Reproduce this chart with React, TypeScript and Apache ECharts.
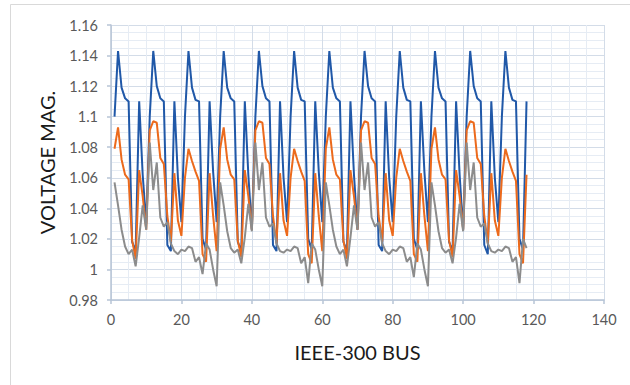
import React, { useEffect, useRef } from "react";
import * as echarts from "echarts";

const buses: number[] = Array.from({ length: 118 }, (_, i) => i + 1);

const xTicks = [0, 20, 40, 60, 80, 100, 120, 140];
const yTicks = [0.98, 1.0, 1.02, 1.04, 1.06, 1.08, 1.1, 1.12, 1.14, 1.16];

const blueSeries = [
  1.100, 1.143, 1.119, 1.112, 1.110, 1.018, 1.012, 1.110, 1.062, 1.030,
  1.100, 1.143, 1.120, 1.112, 1.110, 1.016, 1.012, 1.110, 1.060, 1.031,
  1.100, 1.143, 1.119, 1.111, 1.110, 1.020, 1.013, 1.110, 1.064, 1.031,
  1.100, 1.143, 1.119, 1.112, 1.110, 1.018, 1.012, 1.110, 1.062, 1.026,
  1.100, 1.143, 1.120, 1.112, 1.110, 1.016, 1.012, 1.110, 1.060, 1.031,
  1.100, 1.143, 1.119, 1.111, 1.110, 1.020, 1.013, 1.110, 1.064, 1.031,
  1.100, 1.143, 1.119, 1.112, 1.110, 1.018, 1.012, 1.110, 1.062, 1.026,
  1.100, 1.143, 1.120, 1.112, 1.110, 1.016, 1.012, 1.110, 1.060, 1.031,
  1.100, 1.143, 1.119, 1.111, 1.110, 1.020, 1.013, 1.110, 1.064, 1.031,
  1.100, 1.143, 1.119, 1.112, 1.110, 1.018, 1.012, 1.110, 1.062, 1.026,
  1.100, 1.143, 1.120, 1.112, 1.110, 1.016, 1.010, 1.110, 1.060, 1.031,
  1.100, 1.143, 1.119, 1.111, 1.110, 1.020, 1.013, 1.110,
];

const orangeSeries = [
  1.079, 1.093, 1.072, 1.062, 1.059, 1.019, 1.007, 1.065, 1.048, 1.026,
  1.091, 1.097, 1.096, 1.073, 1.069, 1.035, 1.018, 1.063, 1.032, 1.022,
  1.060, 1.079, 1.071, 1.064, 1.058, 1.010, 1.005, 1.063, 1.035, 1.012,
  1.079, 1.093, 1.072, 1.062, 1.059, 1.019, 1.008, 1.065, 1.048, 1.026,
  1.091, 1.097, 1.096, 1.073, 1.069, 1.035, 1.017, 1.063, 1.032, 1.022,
  1.060, 1.079, 1.071, 1.064, 1.058, 1.010, 1.004, 1.063, 1.035, 1.012,
  1.079, 1.093, 1.072, 1.062, 1.059, 1.019, 1.007, 1.065, 1.048, 1.026,
  1.091, 1.097, 1.096, 1.073, 1.069, 1.035, 1.018, 1.063, 1.032, 1.022,
  1.060, 1.079, 1.071, 1.064, 1.058, 1.010, 1.005, 1.063, 1.035, 1.012,
  1.079, 1.093, 1.072, 1.062, 1.059, 1.019, 1.008, 1.065, 1.048, 1.026,
  1.091, 1.097, 1.096, 1.073, 1.069, 1.035, 1.017, 1.063, 1.032, 1.022,
  1.060, 1.079, 1.071, 1.064, 1.058, 1.010, 1.004, 1.062,
];

const graySeries = [
  1.057, 1.042, 1.026, 1.015, 1.010, 1.013, 1.002, 1.021, 1.042, 1.026,
  1.083, 1.052, 1.070, 1.034, 1.028, 1.031, 1.017, 1.012, 1.010, 1.013,
  1.012, 1.015, 1.014, 1.005, 1.008, 0.997, 1.017, 1.013, 1.000, 0.989,
  1.057, 1.042, 1.025, 1.014, 1.011, 1.013, 1.004, 1.021, 1.043, 1.025,
  1.083, 1.052, 1.070, 1.034, 1.028, 1.030, 1.017, 1.012, 1.011, 1.013,
  1.012, 1.015, 1.014, 1.004, 1.008, 0.991, 1.017, 1.013, 1.000, 0.989,
  1.057, 1.042, 1.026, 1.015, 1.010, 1.013, 1.002, 1.021, 1.042, 1.026,
  1.083, 1.052, 1.070, 1.034, 1.028, 1.031, 1.017, 1.012, 1.010, 1.013,
  1.012, 1.015, 1.014, 1.005, 1.008, 0.995, 1.017, 1.013, 1.000, 0.989,
  1.057, 1.042, 1.025, 1.014, 1.011, 1.013, 1.004, 1.021, 1.043, 1.025,
  1.083, 1.052, 1.070, 1.034, 1.028, 1.030, 1.017, 1.012, 1.011, 1.013,
  1.012, 1.015, 1.014, 1.005, 1.008, 0.991, 1.020, 1.014,
];

const FONT = "Lato, 'Liberation Sans', sans-serif";
const AXIS_COLOR = "#b7c4d6";
const GRID_COLOR = "#d3dce8";
const MINOR_COLOR = "#e6ecf4";

export default function App() {
  const ref = useRef<HTMLDivElement>(null);

  useEffect(() => {
    if (!ref.current) return;
    const chart = echarts.init(ref.current, undefined, { renderer: "svg" });
    const mk = (vals: number[]) => buses.map((b, i) => [b, vals[i]]);
    chart.setOption({
      animation: false,
      backgroundColor: "#ffffff",
      grid: { left: 111, right: 26, top: 25, bottom: 85 },
      graphic: [
        {
          type: "rect",
          silent: true,
          z: -10,
          shape: { x: 10.5, y: 4.5, width: 700, height: 500 },
          style: { fill: "none", stroke: "#d9d9d9", lineWidth: 1 },
        },
      ],
      xAxis: {
        type: "value",
        min: xTicks[0],
        max: xTicks[xTicks.length - 1],
        interval: xTicks[1] - xTicks[0],
        name: "IEEE-300 BUS",
        nameLocation: "middle",
        nameGap: 42,
        nameTextStyle: { fontFamily: FONT, fontSize: 20, color: "#1a1a1a" },
        axisLine: { show: true, lineStyle: { color: AXIS_COLOR, width: 1.5 } },
        axisTick: { show: true, length: 4, lineStyle: { color: AXIS_COLOR, width: 1.5 } },
        axisLabel: { fontFamily: FONT, fontSize: 14.5, color: "#595959", margin: 12 },
        splitLine: { show: true, lineStyle: { color: GRID_COLOR, width: 1 } },
        minorTick: { show: false, splitNumber: 4 },
        minorSplitLine: { show: true, lineStyle: { color: MINOR_COLOR, width: 1 } },
      },
      yAxis: {
        type: "value",
        min: yTicks[0],
        max: yTicks[yTicks.length - 1],
        interval: 0.02,
        name: "VOLTAGE MAG.",
        nameLocation: "middle",
        nameGap: 54,
        nameTextStyle: { fontFamily: FONT, fontSize: 20, color: "#1a1a1a" },
        axisLine: { show: true, lineStyle: { color: AXIS_COLOR, width: 1.5 } },
        axisTick: { show: true, length: 4, lineStyle: { color: AXIS_COLOR, width: 1.5 } },
        axisLabel: { fontFamily: FONT, fontSize: 14.5, color: "#595959", margin: 13 },
        splitLine: { show: true, lineStyle: { color: GRID_COLOR, width: 1 } },
        minorTick: { show: false, splitNumber: 4 },
        minorSplitLine: { show: true, lineStyle: { color: MINOR_COLOR, width: 1 } },
      },
      series: [
        {
          name: "Series 1",
          type: "line",
          data: mk(blueSeries),
          showSymbol: false,
          symbol: "none",
          lineStyle: { color: "#2058a8", width: 2 },
          itemStyle: { color: "#2058a8" },
        },
        {
          name: "Series 2",
          type: "line",
          data: mk(orangeSeries),
          showSymbol: false,
          symbol: "none",
          lineStyle: { color: "#ec6a1c", width: 2 },
          itemStyle: { color: "#ec6a1c" },
        },
        {
          name: "Series 3",
          type: "line",
          data: mk(graySeries),
          showSymbol: false,
          symbol: "none",
          lineStyle: { color: "#8c8c8c", width: 2 },
          itemStyle: { color: "#8c8c8c" },
        },
      ],
    });
    return () => chart.dispose();
  }, []);

  return (
    <div
      ref={ref}
      style={{ position: "fixed", left: 0, top: 0, width: 630, height: 385, background: "#fff" }}
    />
  );
}
